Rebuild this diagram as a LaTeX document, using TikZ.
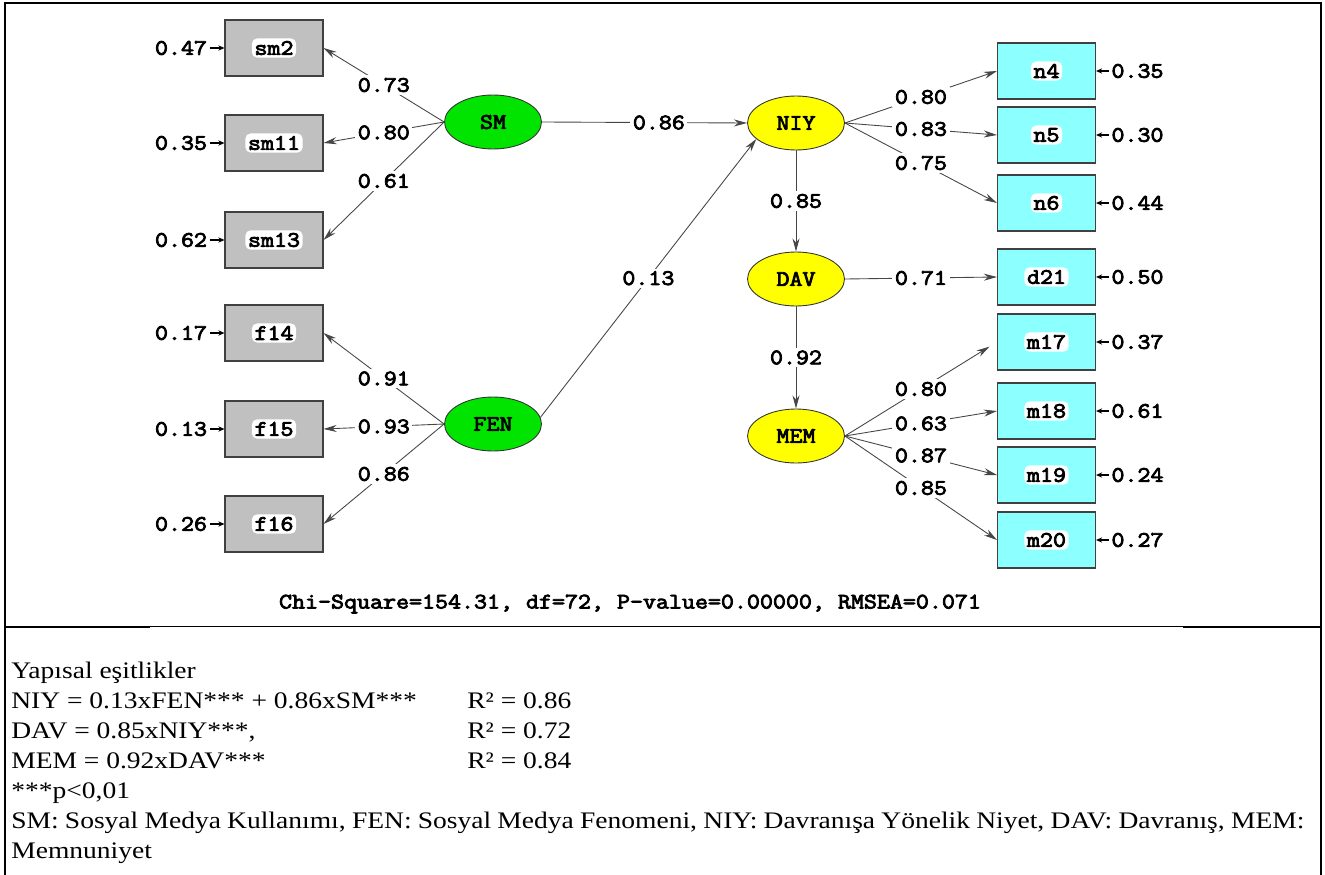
\documentclass[tikz,border=0pt]{standalone}
\usepackage{fontspec}
\setmainfont{Liberation Serif}
\newfontfamily\lisfont[FakeBold=3.6,FakeStretch=1.14]{Latin Modern Mono}
\newfontfamily\tabfont[FakeStretch=1.16]{Liberation Serif}
\usetikzlibrary{arrows.meta}
\usetikzlibrary{positioning,shapes.geometric}

\definecolor{boxgray}{RGB}{192,192,192}
\definecolor{boxcyan}{RGB}{140,255,255}
\definecolor{latgreen}{RGB}{0,228,0}
\definecolor{latyellow}{RGB}{255,255,0}
\definecolor{pathgray}{RGB}{70,70,70}

\tikzset{
  lis/.style={font=\lisfont\fontsize{12.6}{14}\selectfont},
  obs/.style={draw=black!75, line width=0.6pt, minimum width=1.96cm, minimum height=1.12cm, inner sep=0pt},
  obsgray/.style={obs, fill=boxgray},
  obscyan/.style={obs, fill=boxcyan},
  glow/.style={lis, fill=white, rounded corners=3pt, inner sep=1.5pt},
  lat/.style={ellipse, lis, draw=black!80, line width=0.5pt, minimum width=1.94cm, minimum height=1.08cm, inner sep=0pt},
  coef/.style={lis, fill=white, inner sep=1.5pt},
  errl/.style={lis, inner sep=1.5pt},
  load/.style={draw=pathgray, line width=0.5pt, -{Stealth[length=7.5pt,width=4pt]}},
  errarr/.style={draw=black, line width=0.8pt, -{Stealth[length=3.5pt,width=3pt]}},
  frame/.style={black, line width=1.1pt},
  eq/.style={font=\tabfont\fontsize{13.5}{16}\selectfont, inner sep=0pt, anchor=base west}
}

\begin{document}
\begin{tikzpicture}[x=0.02cm, y=-0.02cm]
\useasboundingbox (0,0) rectangle (1325,875);

% frame of the table
\draw[frame] (5,875) -- (5,3) -- (1321,3) -- (1321,875);
\draw[frame] (5,627) -- (150,627);
\draw[frame] (1183,627) -- (1321,627);
\draw[black, line width=0.6pt] (150,626.5) -- (1183,626.5);

% latent variables
\node[lat, fill=latgreen] (SM) at (493,122) {SM};
\node[lat, fill=latgreen] (FEN) at (493,424) {FEN};
\node[lat, fill=latyellow] (NIY) at (796,123) {NIY};
\node[lat, fill=latyellow] (DAV) at (796,279) {DAV};
\node[lat, fill=latyellow] (MEM) at (796,436) {MEM};

% observed variables, left
\foreach \n/\y/\e in {sm2/48/0.47, sm11/143/0.35, sm13/240/0.62, f14/333/0.17, f15/429/0.13, f16/524/0.26} {
 \node[obsgray, label={[glow]center:\n}] (\n) at (274,\y) {};
 \node[errl, left=0.29cm of \n] (e\n) {\e};
 \draw[errarr] (e\n.east) -- (\n.west);
}

% observed variables, right
\foreach \n/\y/\e in {n4/71/0.35, n5/135/0.30, n6/203/0.44, d21/277/0.50, m17/342/0.37, m18/411/0.61, m19/475/0.24, m20/540/0.27} {
 \node[obscyan, label={[glow]center:\n}] (\n) at (1046.5,\y) {};
 \node[errl, right=0.25cm of \n] (e\n) {\e};
 \draw[errarr] (e\n.west) -- (\n.east);
}

% loadings
\foreach \l/\o/\v in {SM/sm2/0.73, SM/sm11/0.80, SM/sm13/0.61, FEN/f14/0.91, FEN/f15/0.93, FEN/f16/0.86} {
 \draw[load] (\l.west) -- node[coef] {\v} (\o.east);
}
\foreach \l/\o/\v in {NIY/n4/0.80, NIY/n5/0.83, NIY/n6/0.75, MEM/m18/0.63, MEM/m19/0.87, MEM/m20/0.85} {
 \draw[load] (\l.east) -- node[coef] {\v} (\o.west);
}
\draw[load, shorten >=5pt] (MEM.east) -- node[coef] {0.80} (m17.west);

% structural paths
\draw[load] (SM.east) -- node[coef, pos=0.57] {0.86} (NIY.west);
\draw[load] (FEN.8) -- node[coef] {0.13} (NIY.202);
\draw[load] (NIY.south) -- node[coef] {0.85} (DAV.north);
\draw[load] (DAV.south) -- node[coef] {0.92} (MEM.north);
\draw[load] (DAV.east) -- node[coef] {0.71} (d21.west);

\node[lis] (fit) at (630,604) {Chi-Square=154.31, df=72, P-value=0.00000, RMSEA=0.071};

% structural equations
\node[eq] (yap) at (11,678) {Yapısal eşitlikler};
\node[eq] (eqniy) at (11,708) {NIY = 0.13xFEN*** + 0.86xSM***};
\node[eq] (rniy) at (467,708) {R² = 0.86};
\node[eq] (eqdav) at (11,738) {DAV = 0.85xNIY***,};
\node[eq] (rdav) at (467,738) {R² = 0.72};
\node[eq] (eqmem) at (11,768) {MEM = 0.92xDAV***};
\node[eq] (rmem) at (467,768) {R² = 0.84};
\node[eq] (sig) at (11,798) {***p<0,01};
\node[eq] (legend) at (11,828) {\makebox[736pt][s]{SM: Sosyal Medya Kullanımı, FEN: Sosyal Medya Fenomeni, NIY: Davranışa Yönelik Niyet, DAV: Davranış, MEM:}};
\node[eq] (legend2) at (11,858) {Memnuniyet};
\end{tikzpicture}
\end{document}
